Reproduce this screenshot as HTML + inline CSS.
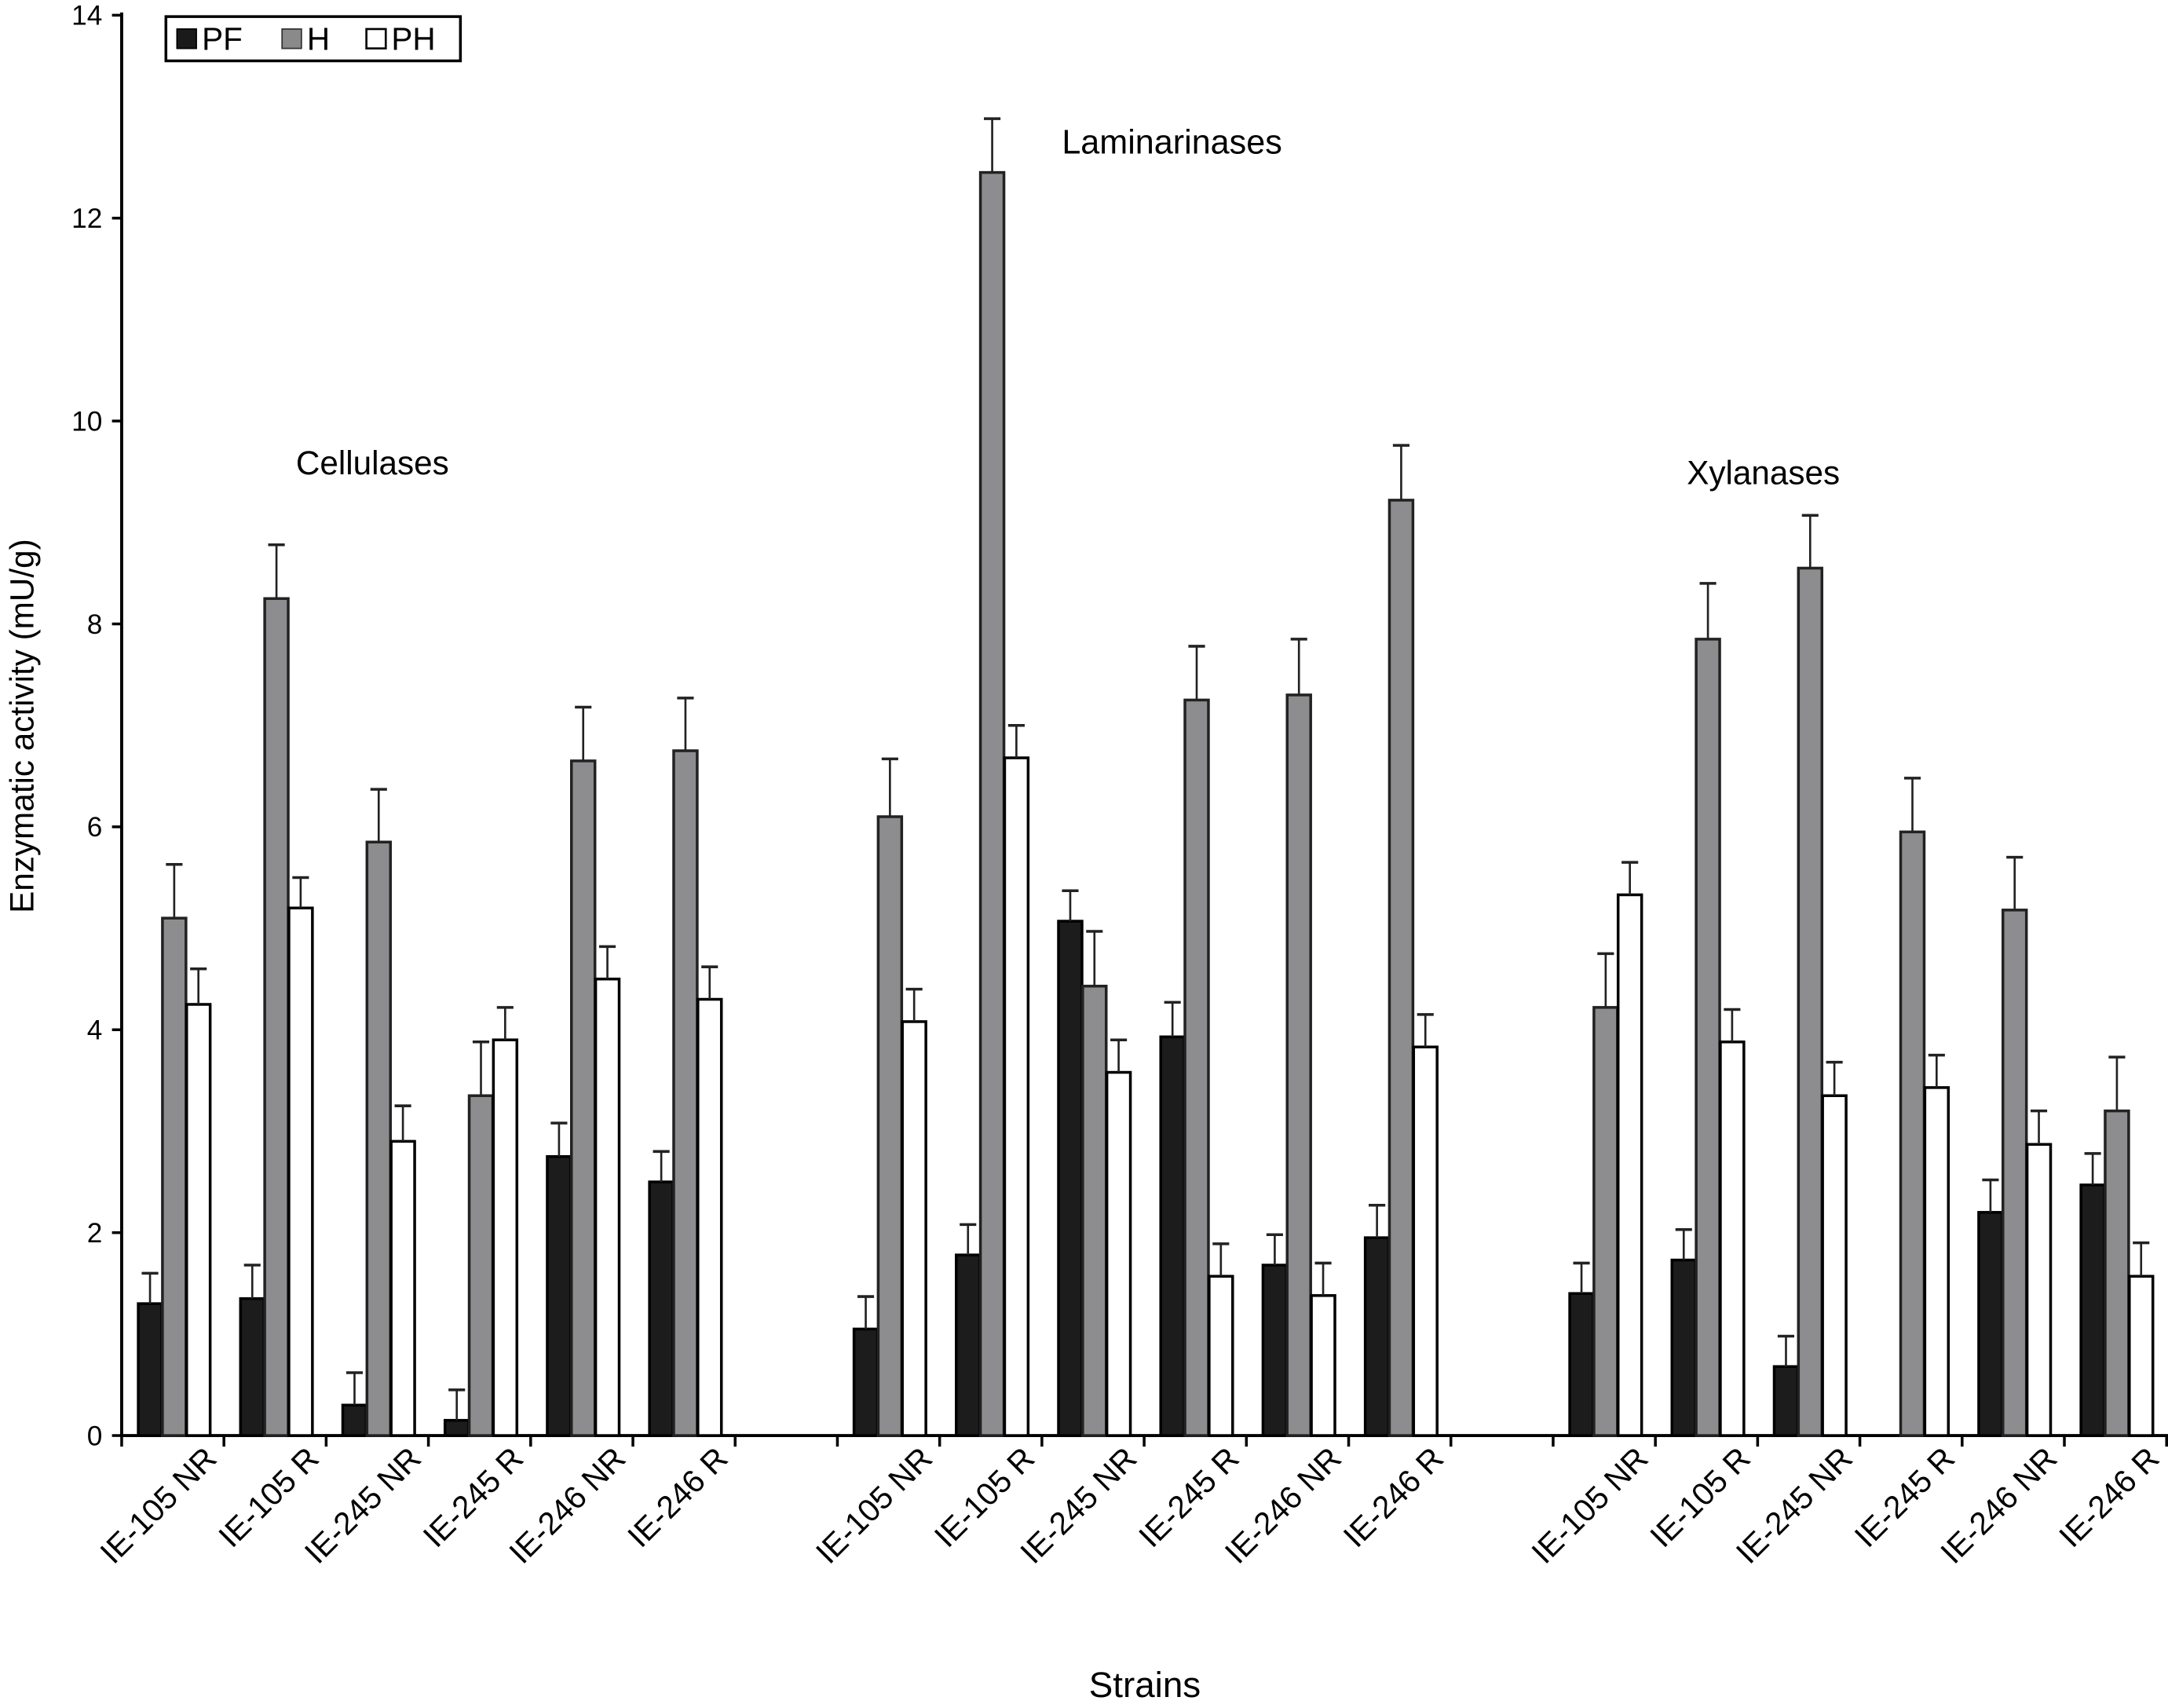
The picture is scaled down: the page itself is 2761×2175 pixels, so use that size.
<!DOCTYPE html>
<html><head><meta charset="utf-8"><style>
html,body{margin:0;padding:0;background:#fff}
svg{display:block;font-family:"Liberation Sans",Arial,sans-serif}
</style></head><body>
<svg id="chart" width="2761" height="2175" viewBox="0 0 1568 1235" preserveAspectRatio="none" xmlns="http://www.w3.org/2000/svg">
<g id="axes"></g><g id="bars"></g>
<text x="0" y="0" transform="translate(24,525) rotate(-90)" font-size="24" text-anchor="middle">Enzymatic activity (mU/g)</text>
<text x="828" y="1227" font-size="26" text-anchor="middle">Strains</text>
<text x="214" y="343" font-size="24">Cellulases</text>
<text x="768" y="111" font-size="24.5">Laminarinases</text>
<text x="1220" y="350" font-size="24">Xylanases</text>
<g>
<rect x="120" y="12" width="213" height="32" fill="#fff" stroke="#000" stroke-width="2"/>
<rect x="128" y="21" width="14" height="14" fill="#1a1a1a" stroke="#000"/>
<text x="146" y="36" font-size="23">PF</text>
<rect x="204" y="21" width="14" height="14" fill="#8a8a8a" stroke="#333"/>
<text x="222" y="36" font-size="23">H</text>
<rect x="265" y="21" width="14" height="14" fill="#fff" stroke="#000" stroke-width="1.5"/>
<text x="283" y="36" font-size="23">PH</text>
</g>
</svg>
<script>
const strains = ["IE-105 NR","IE-105 R","IE-245 NR","IE-245 R","IE-246 NR","IE-246 R"];
const groupSlots = [0, 7, 14];
const yTicks = [0,2,4,6,8,10,12,14];
const pfValues = [[1.3,1.35,0.3,0.15,2.75,2.5],[1.05,1.78,5.07,3.93,1.68,1.95],[1.4,1.73,0.68,0,2.2,2.47]];
const pfErr = [[0.3,0.33,0.32,0.3,0.33,0.3],[0.32,0.3,0.3,0.34,0.3,0.32],[0.3,0.3,0.3,0,0.32,0.31]];
const hValues = [[5.1,8.25,5.85,3.35,6.65,6.75],[6.1,12.45,4.43,7.25,7.3,9.22],[4.22,7.85,8.55,5.95,5.18,3.2]];
const hErr = [[0.53,0.53,0.52,0.53,0.53,0.52],[0.57,0.53,0.54,0.53,0.55,0.54],[0.53,0.55,0.52,0.53,0.52,0.53]];
const phValues = [[4.25,5.2,2.9,3.9,4.5,4.3],[4.08,6.68,3.58,1.57,1.38,3.83],[5.33,3.88,3.35,3.43,2.87,1.57]];
const phErr = [[0.35,0.3,0.35,0.32,0.32,0.32],[0.32,0.32,0.32,0.32,0.32,0.32],[0.32,0.32,0.33,0.32,0.33,0.33]];

const NS="http://www.w3.org/2000/svg";
const x0=88, slotW=73.95, nSlots=20, y0=1038, yTop=11, yMax=14;
const y=v=>y0-(v/yMax)*(y0-yTop);
const xs=i=>x0+i*slotW;
function mk(tag,attrs,parent){const e=document.createElementNS(NS,tag);for(const k in attrs)e.setAttribute(k,attrs[k]);parent.appendChild(e);return e;}
const axes=document.getElementById('axes'), bars=document.getElementById('bars');
let e=mk('line',{x1:x0,y1:yTop-2,x2:x0,y2:y0,stroke:'#000','stroke-width':2.2},axes);


e=mk('line',{x1:x0,y1:y0,x2:xs(nSlots)+1,y2:y0,stroke:'#000','stroke-width':2.2},axes);


yTicks.forEach(t=>{
  mk('line',{x1:x0-7,y1:y(t),x2:x0,y2:y(t),stroke:'#000','stroke-width':2},axes);
  const tx=mk('text',{x:x0-14,y:y(t)+7,'font-size':20,'text-anchor':'end'},axes);
  tx.textContent=t;
  
  
});
for(let i=0;i<=nSlots;i++) mk('line',{x1:xs(i),y1:y0,x2:xs(i),y2:y0+8,stroke:'#000','stroke-width':2},axes);
const series=[{v:pfValues,e:pfErr,fill:'#1c1c1c',stroke:'#000',name:'pf'},{v:hValues,e:hErr,fill:'#8d8d8f',stroke:'#222',name:'h'},{v:phValues,e:phErr,fill:'#fff',stroke:'#000',name:'ph'}];
groupSlots.forEach((gs,g)=>{
  strains.forEach((s,k)=>{
    const slot=gs+k, sx=xs(slot);
    series.forEach((se,si)=>{
      const val=se.v[g][k], err=se.e[g][k];
      const bx=sx+12+si*17.5, bw=17;
      if(val>0){
        const r=mk('rect',{x:bx,y:y(val),width:bw,height:y0-y(val),fill:se.fill,stroke:se.stroke,'stroke-width':2},bars);
        
        
      }
      if(err>0){
        const cx=bx+bw/2;
        mk('line',{x1:cx,y1:y(val),x2:cx,y2:y(val+err),stroke:'#222','stroke-width':1.5},bars);
        const c=mk('line',{x1:cx-6,y1:y(val+err),x2:cx+6,y2:y(val+err),stroke:'#222','stroke-width':2},bars);
        
        
      }
    });
    const cxl=sx+slotW/2+33;
    const t=mk('text',{x:0,y:0,'font-size':23,'text-anchor':'end',transform:`translate(${cxl},1056) rotate(-45)`},axes);
    t.textContent=s;
    
    
  });
});
</script>
</body></html>
